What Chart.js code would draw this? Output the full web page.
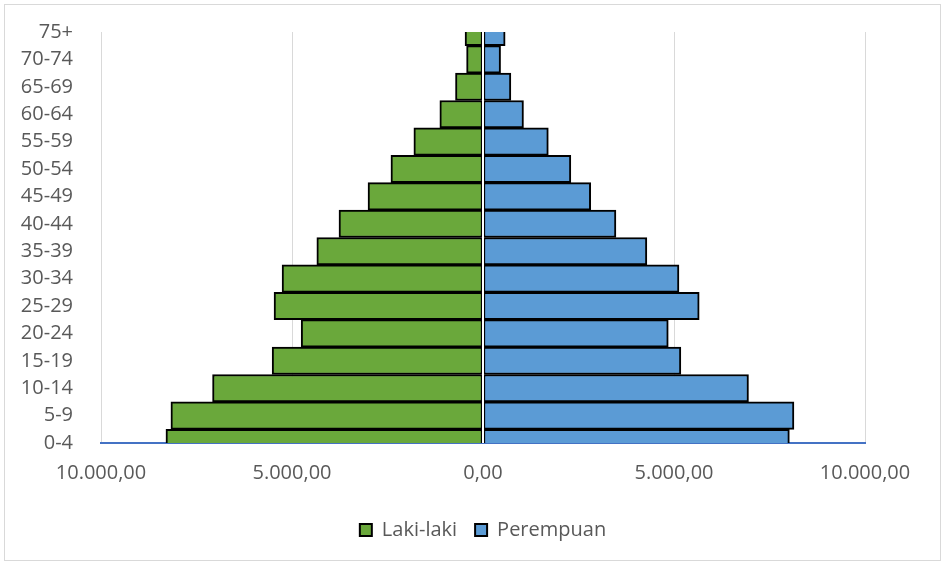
<!DOCTYPE html>
<html>
<head>
<meta charset="utf-8">
<script src="https://cdn.jsdelivr.net/npm/chart.js@4"></script>
<style>
  html, body { margin: 0; padding: 0; background: #fff; }
  #wrap { position: relative; width: 945px; height: 565px; }
  #frame { position: absolute; left: 4px; top: 4px; right: 4px; bottom: 4px; border: 1px solid #d9d9d9; pointer-events: none; }
</style>
</head>
<body>
<div id="wrap">
  <canvas id="pyramid" width="945" height="565"></canvas>
  <div id="frame"></div>
</div>
<script>
// Kelompok umur (bawah ke atas)
const kelompokUmur = ['0-4', '5-9', '10-14', '15-19', '20-24', '25-29', '30-34', '35-39',
  '40-44', '45-49', '50-54', '55-59', '60-64', '65-69', '70-74', '75+'];

// Jumlah penduduk
const lakiLaki = [8300, 8170, 7080, 5520, 4760, 5470, 5260, 4350,
  3770, 3010, 2410, 1810, 1130, 720, 430, 470];
const perempuan = [8020, 8140, 6950, 5180, 4850, 5660, 5130, 4290,
  3480, 2820, 2300, 1710, 1060, 730, 460, 580];

// Tick sumbu x
const tickX = [-10000, -5000, 0, 5000, 10000];

// Format angka gaya Indonesia: 10.000,00
function formatAngka(v) {
  const n = Math.abs(v);
  const bulat = Math.floor(n).toString().replace(/\B(?=(\d{3})+(?!\d))/g, '.');
  return bulat + ',00';
}

// Garis putih di titik nol
const garisNol = {
  id: 'garisNol',
  afterDatasetsDraw(chart) {
    const { ctx, chartArea, scales } = chart;
    const x = scales.x.getPixelForValue(0);
    ctx.save();
    ctx.strokeStyle = '#ffffff';
    ctx.lineWidth = 2;
    ctx.beginPath();
    ctx.moveTo(x, chartArea.top);
    ctx.lineTo(x, chartArea.bottom);
    ctx.stroke();
    ctx.restore();
  }
};

// Geser legenda supaya tengahnya di sumbu nol
const legendaTengah = {
  id: 'legendaTengah',
  beforeDraw(chart) {
    const lg = chart.legend;
    const x0 = chart.scales.x.getPixelForValue(0);
    const w = lg.right - lg.left;
    lg.left = x0 - w / 2;
    lg.right = x0 + w / 2;
  }
};

const huruf = { family: "'Open Sans', sans-serif", size: 20 };

const ctx = document.getElementById('pyramid').getContext('2d');

new Chart(ctx, {
  type: 'bar',
  data: {
    labels: kelompokUmur,
    datasets: [{
      label: 'Laki-laki',
      data: lakiLaki.map(v => -v),
      backgroundColor: '#6aa83b',
      borderColor: '#000',
      borderWidth: 2,
      borderSkipped: false,
      barPercentage: 1,
      categoryPercentage: 1
    }, {
      label: 'Perempuan',
      data: perempuan,
      backgroundColor: '#5b9bd5',
      borderColor: '#000',
      borderWidth: 2,
      borderSkipped: false,
      barPercentage: 1,
      categoryPercentage: 1
    }]
  },
  options: {
    indexAxis: 'y',
    responsive: false,
    animation: false,
    layout: { padding: { top: 32, right: 80, bottom: 15, left: 0 } },
    plugins: {
      legend: {
        position: 'bottom',
        labels: {
          color: '#595959',
          font: huruf,
          boxWidth: 12,
          boxHeight: 12,
          padding: 18
        }
      },
      tooltip: { enabled: false }
    },
    scales: {
      x: {
        stacked: true,
        min: -10000,
        max: 10000,
        afterBuildTicks(scale) {
          scale.ticks = tickX.map(v => ({ value: v }));
        },
        afterFit(scale) { scale.height = 59; },
        ticks: {
          color: '#595959',
          font: huruf,
          padding: 18,
          maxRotation: 0,
          callback: v => formatAngka(v)
        },
        grid: { color: '#d9d9d9', drawTicks: false },
        border: { display: true, color: '#4472c4', width: 2 }
      },
      y: {
        stacked: true,
        reverse: true,
        offset: false,
        afterFit(scale) { scale.width = 101; },
        ticks: {
          color: '#595959',
          font: huruf,
          padding: 20,
          autoSkip: false
        },
        grid: { display: false, offset: false },
        border: { display: false }
      }
    }
  },
  plugins: [garisNol, legendaTengah]
});
</script>
</body>
</html>
